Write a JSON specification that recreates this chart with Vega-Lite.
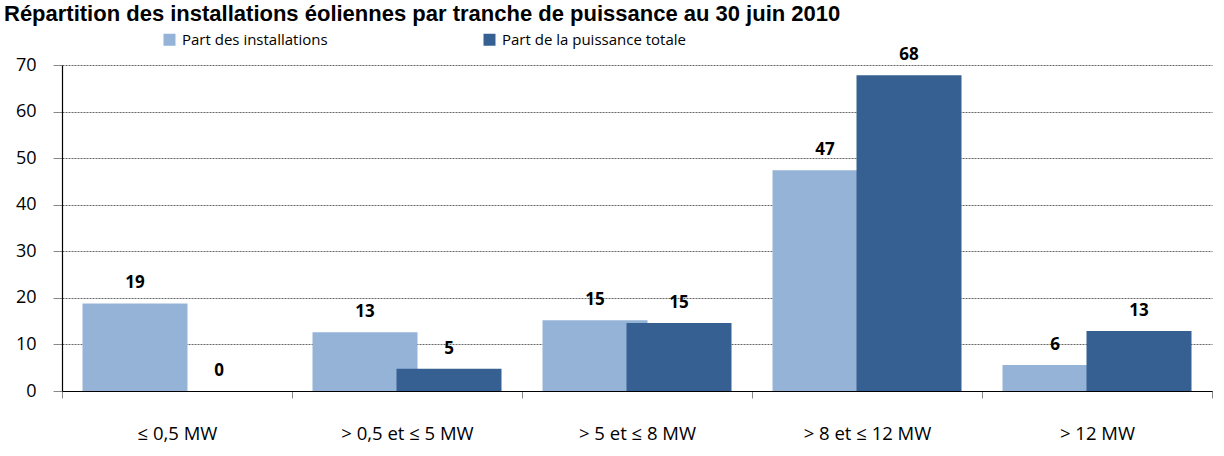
{
  "$schema": "https://vega.github.io/schema/vega-lite/v6.json",
  "width": 1150,
  "height": 326,
  "autosize": {"type": "none"},
  "padding": {"left": 62, "top": 65, "right": 12, "bottom": 65},
  "background": "white",
  "title": {
    "text": "Répartition des installations éoliennes par tranche de puissance au 30 juin 2010",
    "anchor": "start",
    "frame": "group",
    "font": "Liberation Sans",
    "fontSize": 22,
    "fontWeight": "bold",
    "color": "black",
    "dx": -58,
    "dy": 7,
    "offset": -4,
    "baseline": "alphabetic"
  },
  "data": {
    "values": [
      {"cat": "≤ 0,5 MW", "serie": "Part des installations", "value": 18.8},
      {"cat": "≤ 0,5 MW", "serie": "Part de la puissance totale", "value": 0},
      {"cat": "> 0,5 et ≤ 5 MW", "serie": "Part des installations", "value": 12.6},
      {"cat": "> 0,5 et ≤ 5 MW", "serie": "Part de la puissance totale", "value": 4.8},
      {"cat": "> 5 et ≤ 8 MW", "serie": "Part des installations", "value": 15.2},
      {"cat": "> 5 et ≤ 8 MW", "serie": "Part de la puissance totale", "value": 14.6},
      {"cat": "> 8 et ≤ 12 MW", "serie": "Part des installations", "value": 47.4},
      {"cat": "> 8 et ≤ 12 MW", "serie": "Part de la puissance totale", "value": 67.8},
      {"cat": "> 12 MW", "serie": "Part des installations", "value": 5.6},
      {"cat": "> 12 MW", "serie": "Part de la puissance totale", "value": 12.9}
    ]
  },
  "encoding": {
    "x": {
      "field": "cat",
      "type": "nominal",
      "sort": null,
      "scale": {"paddingInner": 0, "paddingOuter": 0},
      "axis": {
        "title": null,
        "labelAngle": 0,
        "labelFont": "Open Sans",
        "labelFontSize": 18.5,
        "labelColor": "black",
        "labelPadding": 26,
        "domainColor": "black",
        "domainWidth": 1.2,
        "tickBand": "extent",
        "tickColor": "#888888",
        "tickSize": 7,
        "grid": false
      }
    },
    "xOffset": {
      "field": "serie",
      "type": "nominal",
      "sort": ["Part des installations", "Part de la puissance totale"],
      "scale": {"paddingInner": 0, "paddingOuter": 0.369}
    },
    "y": {
      "field": "value",
      "type": "quantitative",
      "scale": {"domain": [0, 70], "nice": false},
      "axis": {
        "title": null,
        "values": [0, 10, 20, 30, 40, 50, 60, 70],
        "labelFont": "Open Sans",
        "labelFontSize": 18,
        "labelColor": "black",
        "labelPadding": 17,
        "domainColor": "black",
        "domainWidth": 1.2,
        "tickColor": "#888888",
        "tickSize": 9,
        "gridColor": "#666666",
        "gridDash": [2, 1],
        "gridWidth": 1
      }
    }
  },
  "layer": [
    {
      "mark": {"type": "bar", "width": 105},
      "encoding": {
        "color": {
          "field": "serie",
          "type": "nominal",
          "sort": ["Part des installations", "Part de la puissance totale"],
          "scale": {"domain": ["Part des installations", "Part de la puissance totale"], "range": ["#95B3D7", "#366092"]},
          "legend": {
            "title": null,
            "orient": "none",
            "direction": "horizontal",
            "legendX": 100,
            "legendY": -33,
            "symbolType": "square",
            "symbolSize": 144,
            "symbolStrokeWidth": 0,
            "symbolOpacity": 1,
            "labelFont": "Open Sans",
            "labelFontSize": 15,
            "labelColor": "black",
            "labelOffset": 5,
            "columnPadding": 154,
            "labelLimit": 400
          }
        }
      }
    },
    {
      "mark": {"type": "text", "dy": -20, "baseline": "middle", "font": "Open Sans", "fontWeight": "bold", "fontSize": 17, "color": "black"},
      "encoding": {
        "text": {"field": "value", "type": "quantitative", "format": ".0f"}
      }
    }
  ],
  "config": {"view": {"stroke": null}}
}
